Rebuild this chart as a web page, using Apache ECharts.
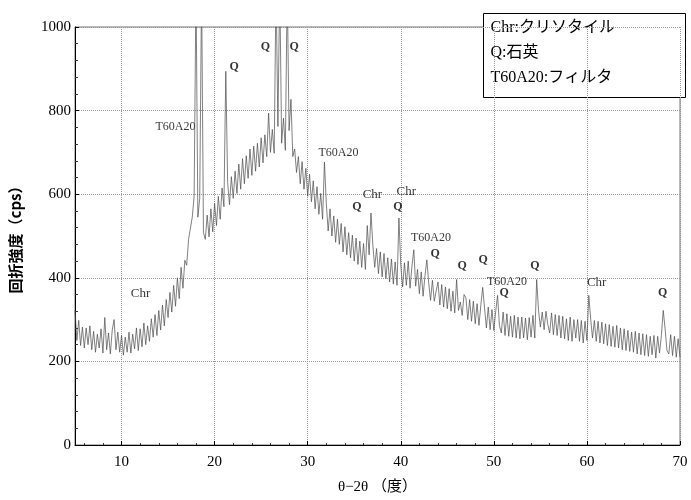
<!DOCTYPE html>
<html>
<head>
<meta charset="utf-8">
<style>
    html,body{margin:0;padding:0;background:#fff;}
    #xrdChart{width:691px;height:500px;}
</style>
<script src="https://cdn.jsdelivr.net/npm/echarts@6/dist/echarts.min.js"></script>
</head>
<body>
<div id="xrdChart"></div>
<script>
    // 測定条件：5〜70度を0.2度刻み
    var startAngle = 5;
    var stepAngle = 0.2;
    // 強度（cps）、1行=1度分
    var intensity = [
        322, 250, 298, 238, 282,
        232, 280, 240, 285, 228,
        272, 222, 265, 232, 278,
        220, 305, 228, 268, 218,
        275, 300, 228, 270, 222,
        262, 215, 258, 222, 270,
        220, 265, 230, 280, 226,
        278, 235, 292, 240, 285,
        248, 302, 258, 312, 262,
        322, 275, 335, 285, 348,
        305, 365, 318, 382, 332,
        400, 350, 425, 375, 442,
        430, 492, 488, 545, 595,
        1100, 545, 590, 1100, 508,
        492, 550, 498, 565, 510,
        578, 525, 595, 540, 615,
        570, 894, 628, 575, 642,
        590, 655, 602, 672, 612,
        685, 625, 692, 638, 708,
        645, 715, 655, 722, 665,
        735, 675, 742, 690, 794,
        700, 755, 698, 1100, 762,
        1100, 722, 782, 705, 1100,
        752, 827, 690, 708, 652,
        690, 625, 678, 612, 662,
        595, 648, 582, 632, 565,
        618, 552, 602, 540, 677,
        578, 512, 565, 500, 548,
        485, 540, 480, 530, 462,
        522, 455, 508, 448, 502,
        440, 495, 432, 488, 425,
        482, 420, 525, 455, 555,
        478, 425, 470, 410, 462,
        402, 458, 398, 448, 390,
        445, 385, 438, 382, 543,
        430, 378, 436, 382, 440,
        375, 428, 467, 380, 420,
        362, 414, 356, 405, 443,
        388, 346, 394, 344, 368,
        390, 335, 384, 330, 378,
        326, 374, 320, 368, 316,
        396, 322, 342, 310, 360,
        352, 300, 348, 296, 344,
        290, 338, 286, 334, 377,
        328, 280, 330, 276, 324,
        274, 320, 358, 286, 268,
        318, 262, 314, 260, 308,
        258, 310, 256, 306, 254,
        306, 256, 304, 252, 305,
        258, 310, 256, 396, 322,
        282, 318, 276, 320, 288,
        268, 316, 264, 312, 262,
        310, 256, 308, 254, 302,
        250, 306, 248, 300, 256,
        300, 248, 298, 244, 296,
        250, 358, 302, 256, 298,
        248, 296, 244, 294, 242,
        290, 238, 288, 236, 284,
        234, 286, 232, 280, 228,
        278, 226, 274, 224, 270,
        222, 272, 218, 268, 216,
        266, 214, 264, 212, 260,
        216, 262, 208, 260, 220,
        262, 322, 278, 226, 218,
        264, 214, 260, 210, 254,
        210
    ];
    // ピーク同定ラベル
    var peakLabels = ['T60A20', 'Q', 'Q', 'Q', 'T60A20', 'Q', 'Chr', 'Chr', 'Q', 'T60A20',
        'Q', 'Q', 'Q', 'T60A20', 'Q', 'Q', 'Chr', 'Q', 'Chr'];
    var peakLabelX = [15.8, 22.1, 25.45, 28.55, 33.3, 35.3, 36.95, 40.6, 39.7, 43.25,
        43.7, 46.6, 48.85, 51.4, 51.1, 54.4, 61.05, 68.15, 12.05];
    var peakLabelY = [761, 905, 953, 953, 699, 569, 600, 607, 569, 495,
        457, 429, 443, 391, 363, 429, 389, 363, 363];
    var legendLines = ['Chr:クリソタイル', 'Q:石英', 'T60A20:フィルタ'];

    var serif = "'Liberation Serif','DejaVu Serif','Noto Sans CJK JP',serif";

    var lineData = [];
    for (var i = 0; i < intensity.length; i++) {
        lineData.push([startAngle + i * stepAngle, intensity[i]]);
    }
    var labelData = [];
    for (var k = 0; k < peakLabels.length; k++) {
        labelData.push({value: [peakLabelX[k], peakLabelY[k]], name: peakLabels[k]});
    }

    var option = {
        backgroundColor: '#fff',
        animation: false,
        grid: {left: 74, right: 11, top: 27, bottom: 51, show: true, borderColor: '#777', borderWidth: 1},
        xAxis: {
            type: 'value', min: 5, max: 70,
            name: 'θ−2θ （度）', nameLocation: 'middle', nameGap: 35,
            nameTextStyle: {fontFamily: serif, fontSize: 15, color: '#000'},
            axisLine: {lineStyle: {color: '#000'}},
            axisTick: {inside: true, length: 4, lineStyle: {color: '#000'}},
            minorTick: {show: true, splitNumber: 5, length: 2, lineStyle: {color: '#333'}},
            axisLabel: {
                fontFamily: serif, fontSize: 15, color: '#000', margin: 10,
                formatter: function (v) { return v % 10 === 0 ? String(v) : ''; }
            },
            splitLine: {show: true, lineStyle: {color: '#999', type: 'dotted'}}
        },
        yAxis: {
            type: 'value', min: 0, max: 1000, interval: 200,
            name: '回折強度（cps）', nameLocation: 'middle', nameGap: 52, nameRotate: 90,
            nameTextStyle: {fontFamily: "'Noto Sans CJK JP',sans-serif", fontSize: 15, fontWeight: 'bold', color: '#000'},
            axisLine: {show: true, lineStyle: {color: '#000'}},
            axisTick: {show: true, inside: true, length: 4, lineStyle: {color: '#000'}},
            minorTick: {show: true, splitNumber: 5, length: 3, lineStyle: {color: '#333'}},
            axisLabel: {
                fontFamily: serif, fontSize: 15, color: '#000', margin: 4,
                formatter: function (v) { return String(v); }
            },
            splitLine: {show: true, lineStyle: {color: '#999', type: 'dotted'}}
        },
        series: [
            {
                name: 'XRD',
                type: 'line',
                data: lineData,
                showSymbol: false,
                clip: true,
                lineStyle: {color: '#4a4a4a', width: 0.7}
            },
            {
                name: 'peaks',
                type: 'scatter',
                data: labelData,
                symbolSize: 0,
                silent: true,
                label: {
                    show: true, position: 'inside',
                    formatter: function (p) {
                        if (p.name === 'Q') return '{q|Q}';
                        if (p.name === 'Chr') return '{c|Chr}';
                        return '{t|' + p.name + '}';
                    },
                    rich: {
                        q: {fontFamily: serif, fontSize: 12, fontWeight: 'bold', color: '#000'},
                        c: {fontFamily: serif, fontSize: 13, color: '#000'},
                        t: {fontFamily: serif, fontSize: 12, color: '#000'}
                    }
                },
                labelLayout: {hideOverlap: false}
            }
        ],
        graphic: [
            {
                type: 'group', left: 483, top: 13,
                children: [
                    {type: 'rect', shape: {x: 0, y: 0, width: 202, height: 84},
                        style: {fill: '#fff', stroke: '#000', lineWidth: 1}},
                    {type: 'text', x: 7, y: 6, style: {text: legendLines[0], font: '16px ' + serif, fill: '#000'}},
                    {type: 'text', x: 7, y: 31, style: {text: legendLines[1], font: '16px ' + serif, fill: '#000'}},
                    {type: 'text', x: 7, y: 56, style: {text: legendLines[2], font: '16px ' + serif, fill: '#000'}}
                ]
            }
        ]
    };

    var chart = echarts.init(document.getElementById('xrdChart'));
    chart.setOption(option);
</script>
</body>
</html>
